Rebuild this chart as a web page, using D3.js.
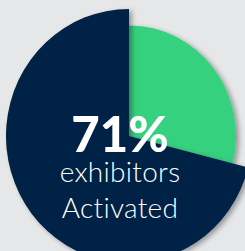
<!DOCTYPE html>
<html>
<head>
<meta charset="utf-8">
<script src="https://cdn.jsdelivr.net/npm/d3@7"></script>
<style>
  html, body { margin: 0; padding: 0; background: #e6e7e9; overflow: hidden; }
</style>
</head>
<body>
<div id="chart"></div>
<script>
var width = 245, height = 251;

// data
var categories = ["Activated", "Not activated"];
var values = [71, 29];
var colors = ["#022247", "#36d17f"];
var caption = ["exhibitors", "Activated"];

var svg = d3.select("#chart")
  .append("svg")
    .attr("width", width)
    .attr("height", height);

// soft shadow under each slice
var defs = svg.append("defs");
defs.append("filter")
    .attr("id", "shadow")
    .attr("x", "-20%").attr("y", "-20%")
    .attr("width", "140%").attr("height", "140%")
  .append("feDropShadow")
    .attr("dx", 3)
    .attr("dy", 2)
    .attr("stdDeviation", 2.5)
    .attr("flood-color", "#000")
    .attr("flood-opacity", 0.35);

var total = d3.sum(values);

// the activated slice ends at 12 o'clock, the rest runs clockwise from there
var pie = d3.pie()
  .sort(null)
  .startAngle(-2 * Math.PI * values[0] / total)
  .endAngle(2 * Math.PI - 2 * Math.PI * values[0] / total);

var radius = d3.scaleOrdinal().domain(categories).range([123, 107]);

var arc = d3.arc()
  .innerRadius(0)
  .outerRadius(function(d) { return radius(d.data.cat); });

var data = categories.map(function(c, i) { return {cat: c, value: values[i]}; });
var arcs = pie.value(function(d) { return d.value; })(data);

var g = svg.append("g")
  .attr("transform", "translate(129,136) scale(1,1.033)");

// draw the small slice first so the big one sits on top of it
g.selectAll("path")
  .data(arcs.slice().reverse())
  .enter()
  .append("path")
    .attr("d", arc)
    .attr("fill", function(d) { return colors[categories.indexOf(d.data.cat)]; })
    .attr("filter", "url(#shadow)");

// centre text
var txt = svg.append("g")
  .attr("transform", "translate(120,0)")
  .attr("fill", "#ffffff")
  .attr("text-anchor", "middle")
  .style("font-family", "Lato, 'Open Sans', sans-serif");

txt.append("text")
  .attr("y", 152)
  .style("font-size", "49px")
  .style("font-weight", 900)
  .text(Math.round(100 * values[0] / total) + "%");

txt.selectAll(".cap")
  .data(caption)
  .enter()
  .append("text")
    .attr("class", "cap")
    .attr("y", function(d, i) { return 182 + i * 36; })
    .style("font-size", "28px")
    .style("font-weight", 300)
    .style("letter-spacing", "0.3px")
    .text(function(d) { return d; });
</script>
</body>
</html>
